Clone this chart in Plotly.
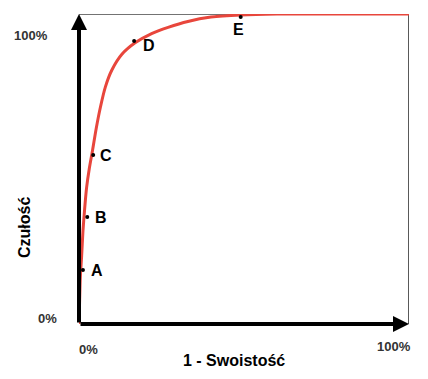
import plotly.graph_objects as go

# ROC curve (1 - specificity vs sensitivity)
curve_x = [0, 0.002, 0.004, 0.008, 0.012, 0.017, 0.023, 0.031, 0.041, 0.052, 0.065, 0.08, 0.1, 0.13, 0.17, 0.22, 0.27, 0.33, 0.4, 0.49, 0.6, 0.75, 1.0]
curve_y = [0, 0.08, 0.15, 0.22, 0.3, 0.37, 0.44, 0.5, 0.56, 0.63, 0.7, 0.765, 0.82, 0.87, 0.907, 0.937, 0.957, 0.976, 0.99, 0.997, 1.0, 1.0, 1.0]

point_labels = ["A", "B", "C", "D", "E"]
point_x = [0.012, 0.025, 0.043, 0.167, 0.49]
point_y = [0.174, 0.345, 0.545, 0.913, 0.99]

tick_labels = ["0%", "100%"]

RED = "#e8463c"

# page body has an 8px margin; compensate so the plot lands where the reference has it
OFF = 8
W, H = 428 - OFF, 379 - OFF
L, T = 79 - OFF, 14 - OFF
R = W - (409 - OFF)
B = H - (324 - OFF)
pw, ph = W - L - R, H - T - B


def px2paper(xp, yp):
    return (xp - OFF - L) / pw, (H - B - (yp - OFF)) / ph


fig = go.Figure()
fig.add_trace(go.Scatter(x=curve_x, y=curve_y, mode="lines",
                         line=dict(color=RED, width=3, shape="spline", smoothing=0.7),
                         hoverinfo="skip", showlegend=False, cliponaxis=False))
fig.add_trace(go.Scatter(x=point_x, y=point_y, mode="markers",
                         marker=dict(color="black", size=4),
                         showlegend=False, cliponaxis=False))

# point labels
offsets = {"A": (14, 0), "B": (14, 0), "C": (13, 0), "D": (15, -5), "E": (-2, -12)}
for lab, px, py in zip(point_labels, point_x, point_y):
    dx, dy = offsets[lab]
    fig.add_annotation(x=px, y=py, text=f"<b>{lab}</b>", showarrow=False,
                       xshift=dx, yshift=dy,
                       font=dict(family="Liberation Sans, Arial", size=16, color="black"))

# axes with arrows
fig.add_annotation(x=0, y=1.0, ax=0, ay=0, xref="x", yref="y", axref="x", ayref="y",
                   showarrow=True, arrowhead=2, arrowsize=0.8, arrowwidth=4, arrowcolor="black", text="")
fig.add_annotation(x=1.0, y=0, ax=0, ay=0, xref="x", yref="y", axref="x", ayref="y",
                   showarrow=True, arrowhead=2, arrowsize=0.8, arrowwidth=4, arrowcolor="black", text="")

# frame top & right
fig.add_shape(type="line", x0=0, x1=1, y0=1, y1=1, xref="x", yref="y",
              line=dict(color="#444", width=1.5), layer="below")
fig.add_shape(type="line", x0=1, x1=1, y0=0, y1=1, xref="x", yref="y",
              line=dict(color="#222", width=1.5), layer="below")

tick_font = dict(family="Liberation Sans, Arial", size=13, color="#333")
for txt, (xp, yp) in [(tick_labels[1], (31, 36)), (tick_labels[0], (47, 318)),
                      (tick_labels[0], (88, 349)), (tick_labels[1], (394, 346))]:
    xx, yy = px2paper(xp, yp)
    fig.add_annotation(x=xx, y=yy, xref="paper", yref="paper", text=f"<b>{txt}</b>",
                       xanchor="center", yanchor="middle",
                       showarrow=False, font=tick_font)

title_font = dict(family="Liberation Sans, Arial", size=16, color="black")
xx, yy = px2paper(234, 360)
fig.add_annotation(x=xx, y=yy, xref="paper", yref="paper", text="<b>1 - Swoistość</b>",
                   xanchor="center", yanchor="middle",
                   showarrow=False, font=title_font)
xx, yy = px2paper(24, 228)
fig.add_annotation(x=xx, y=yy, xref="paper", yref="paper", text="<b>Czułość</b>",
                   xanchor="center", yanchor="middle",
                   showarrow=False, textangle=-90, font=title_font)

fig.update_xaxes(range=[0, 1], visible=False, fixedrange=True)
fig.update_yaxes(range=[0, 1], visible=False, fixedrange=True)
fig.update_layout(width=W, height=H, margin=dict(l=L, r=R, t=T, b=B),
                  paper_bgcolor="white", plot_bgcolor="white", showlegend=False)

fig.write_html("out.html")
